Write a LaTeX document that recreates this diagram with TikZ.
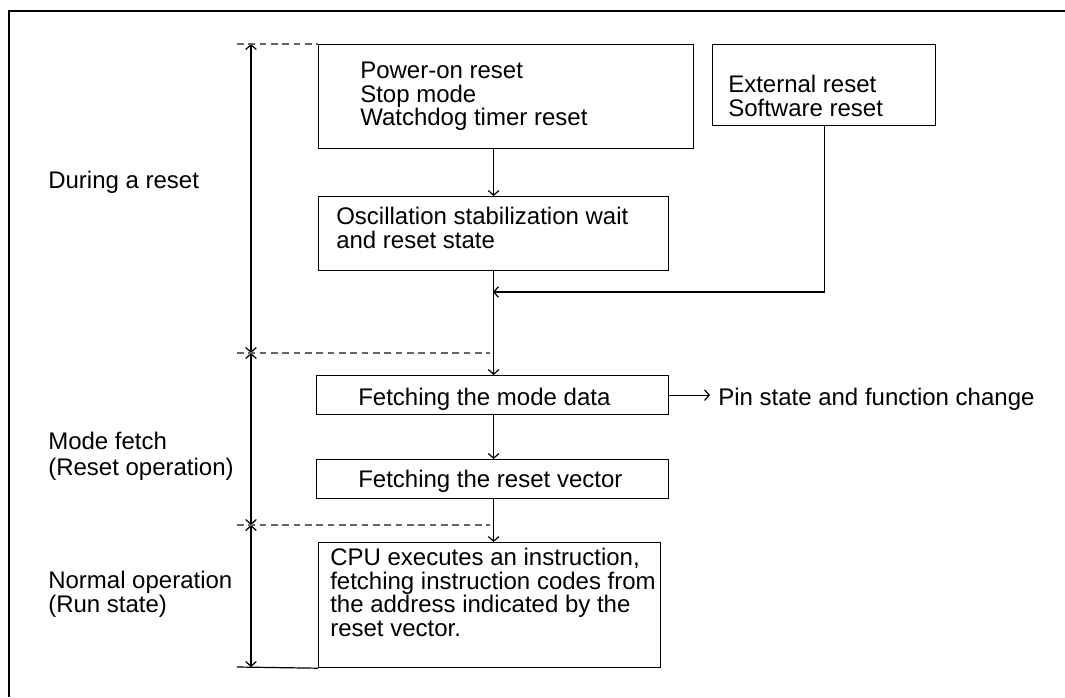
\documentclass[tikz,border=0pt]{standalone}
\usepackage{fontspec}
\setmainfont{Liberation Sans}
\usetikzlibrary{arrows.meta}
\tikzset{
  box/.style={draw,line width=0.9pt,anchor=north west,inner sep=0pt},
  txt/.style={anchor=north west,inner sep=0pt,align=left},
  arr/.style={line width=0.9pt,-{Straight Barb[length=3.5pt,width=8pt]}},
  span/.style={line width=0.9pt,{Straight Barb[length=3.5pt,width=8pt]}-{Straight Barb[length=3.5pt,width=8pt]}},
  guide/.style={draw=black!60,line width=0.9pt,dash pattern=on 5pt off 3.5pt},
}
\begin{document}
\begin{tikzpicture}[x=0.75pt,y=-0.75pt,font=\fontsize{18pt}{17.6pt}\selectfont]
  \useasboundingbox (0,0) rectangle (1065,697);
  % frame
  \draw[line width=1.5pt] (9,697) -- (9,11) -- (1065,11);
  % boxes
  \node[box,minimum width=375*0.75pt,minimum height=104*0.75pt] (pwr) at (318,44) {};
  \node[box,minimum width=223*0.75pt,minimum height=81*0.75pt] (ext) at (712,44) {};
  \node[box,minimum width=350*0.75pt,minimum height=74*0.75pt] (osc) at (318,196) {};
  \node[box,minimum width=352*0.75pt,minimum height=39*0.75pt] (mode) at (316,375) {};
  \node[box,minimum width=352*0.75pt,minimum height=39*0.75pt] (vec) at (316,459) {};
  \node[box,minimum width=342*0.75pt,minimum height=125*0.75pt] (cpu) at (318,542) {};
  % texts
  \node[txt] (pwrtxt) at (360,62) {Power-on reset\\Stop mode\\Watchdog timer reset};
  \node[txt] (exttxt) at (728,75) {External reset\\Software reset};
  \node[txt] (osctxt) at (336,207) {Oscillation stabilization wait\\and reset state};
  \node[txt] (modetxt) at (358,388) {Fetching the mode data};
  \node[txt] (vectxt) at (358,470) {Fetching the reset vector};
  \node[txt] (cputxt) at (330,548) {CPU executes an instruction,\\fetching instruction codes from\\the address indicated by the\\reset vector.};
  \node[txt] (pin) at (718,388) {Pin state and function change};
  \node[txt] (during) at (48,171) {During a reset};
  \node[txt] (fetch) at (48,432) {Mode fetch\\[2pt](Reset operation)};
  \node[txt] (normal) at (48,571) {Normal operation\\(Run state)};
  % flow
  \coordinate (merge) at (493,292);
  \draw[arr] (pwr.south -| osc.north) -- (osc.north);
  \draw[arr] (ext.south) |- (merge);
  \draw[arr] (osc.south) -- (osc.south |- mode.north);
  \draw[arr] (mode.south -| osc.south) -- (osc.south |- vec.north);
  \draw[arr] (vec.south -| osc.south) -- (osc.south |- cpu.north);
  \draw[arr] (mode.east) -- ([xshift=-6pt]pin.west |- mode.east);
  % phases
  \coordinate (t0) at (251,44);
  \coordinate (t1) at (251,353);
  \coordinate (t2) at (251,525);
  \coordinate (t3) at (251,667);
  \draw[span] (t0) -- (t1);
  \draw[span] (t1) -- (t2);
  \draw[span] (t2) -- (t3);
  \draw[guide] (237,44) -- (pwr.north west);
  \draw[guide] (237,353) -- (490,353);
  \draw[guide] (237,525) -- (490,525);
  \draw[line width=0.9pt] (237,667) -- (cpu.south west);
\end{tikzpicture}
\end{document}
